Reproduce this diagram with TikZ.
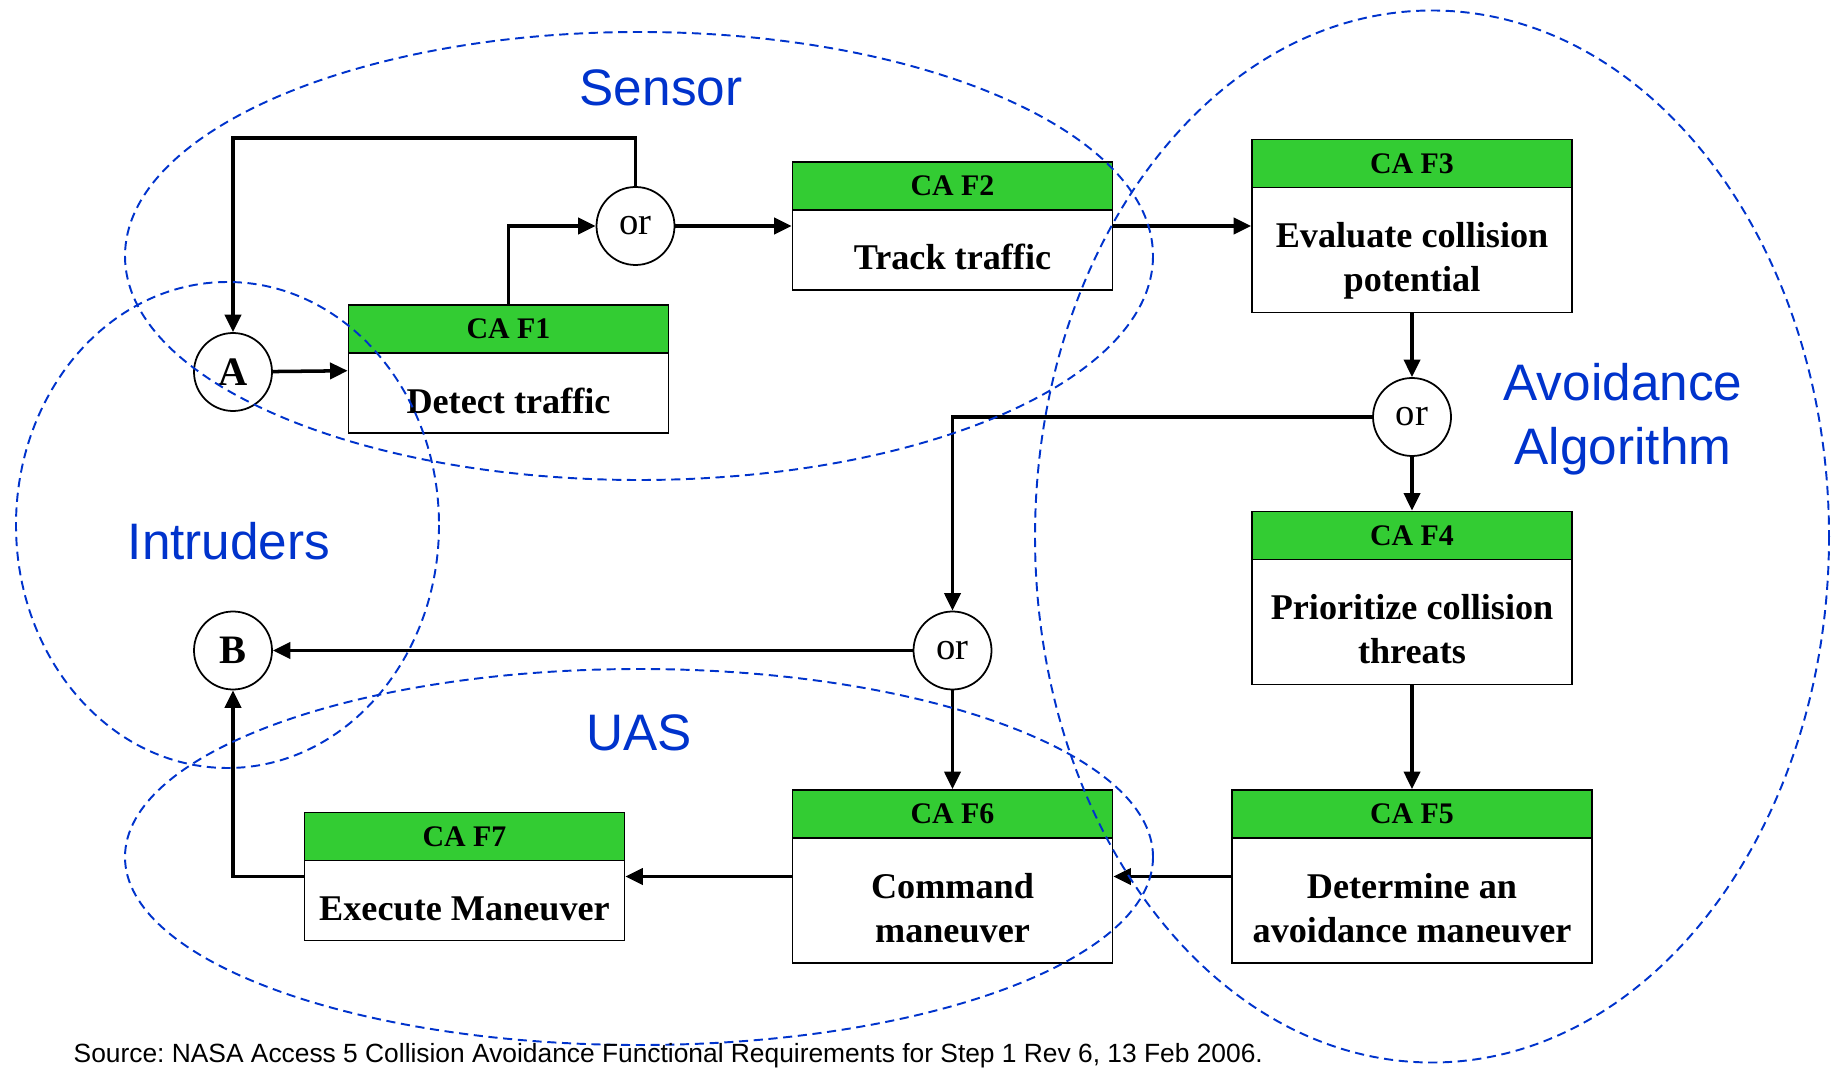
\documentclass[tikz,border=0pt]{standalone}
\usepackage{fontspec}
\setmainfont{Liberation Serif}
\newfontfamily\labelfont{Liberation Sans}
\usetikzlibrary{arrows.meta}

\definecolor{boxgreen}{RGB}{51,204,51}
\definecolor{zoneblue}{RGB}{0,51,204}

\begin{document}
\frenchspacing
\begin{tikzpicture}[
    x=0.1mm,
    y=-0.1mm,
    line join=miter,
    cabox/.style={draw,line width=0.5pt,minimum width=32mm,inner sep=0pt},
    cahead/.style={draw,line width=0.5pt,fill=boxgreen,minimum width=32mm,minimum height=4.8mm,
        inner sep=0pt,anchor=north,font=\bfseries\fontsize{8.5}{10}\selectfont},
    catext/.style={align=center,inner sep=0pt,font=\bfseries\fontsize{10.3}{12.5}\selectfont},
    gate/.style={circle,draw,line width=0.5pt,minimum size=7.8mm,inner sep=0pt,
        font=\fontsize{11}{13}\selectfont},
    flow/.style={line width=1pt,-{Triangle[length=5pt,width=4.6pt]}},
    zone/.style={zoneblue,line width=0.55pt,dash pattern=on 2.6pt off 1.6pt},
    zonelabel/.style={zoneblue,align=center,font=\labelfont\fontsize{14.6}{18.2}\selectfont}
]

\useasboundingbox (0,0) rectangle (1835,1068);

% -------------------------------------------------
% Блоки CA F1 ... CA F7
% -------------------------------------------------

\node[cabox,minimum height=12.8mm] (f1) at (508.5,369) {};
\node[cahead] (f1h) at (f1.north) {CA F1};
\node[catext] (f1t) at (508.5,400.5) {Detect traffic};

\node[cabox,minimum height=12.8mm] (f2) at (952.5,226) {};
\node[cahead] (f2h) at (f2.north) {CA F2};
\node[catext] (f2t) at (952.5,257) {Track traffic};

\node[cabox,minimum height=17.3mm] (f3) at (1412,226) {};
\node[cahead] (f3h) at (f3.north) {CA F3};
\node[catext] (f3t) at (1412,261) {Evaluate collision\\potential};

\node[cabox,minimum height=17.3mm] (f4) at (1412,598) {};
\node[cahead] (f4h) at (f4.north) {CA F4};
\node[catext] (f4t) at (1412,629.5) {Prioritize collision\\threats};

\node[cabox,minimum width=36mm,minimum height=17.3mm] (f5) at (1412,876.5) {};
\node[cahead,minimum width=36mm] (f5h) at (f5.north) {CA F5};
\node[catext] (f5t) at (1412,908.5) {Determine an\\avoidance maneuver};

\node[cabox,minimum height=17.3mm] (f6) at (952.5,876.5) {};
\node[cahead] (f6h) at (f6.north) {CA F6};
\node[catext] (f6t) at (952.5,908.5) {Command\\maneuver};

\node[cabox,minimum height=12.8mm] (f7) at (464.5,876.5) {};
\node[cahead] (f7h) at (f7.north) {CA F7};
\node[catext] (f7t) at (464.5,908.5) {Execute Maneuver};

% -------------------------------------------------
% Узлы A, B и «or»
% -------------------------------------------------

\node[gate,font=\bfseries\fontsize{11.5}{13}\selectfont] (a) at (233,372) {A};
\node[gate,font=\bfseries\fontsize{11.5}{13}\selectfont] (b) at (233,650.5) {B};
\node[gate] (or1) at (635.5,226) {or};
\node[gate] (or2) at (1412,417) {or};
\node[gate] (or3) at (952.5,650.5) {or};

% -------------------------------------------------
% Стрелки
% -------------------------------------------------

\coordinate (loop) at (233,138);
\draw[flow] (or1) |- (loop) -- (a);
\draw[flow] (a) -- (f1);
\draw[flow] (f1) |- (or1);
\draw[flow] (or1) -- (f2);
\draw[flow] (f2) -- (f3);
\draw[flow] (f3) -- (or2);
\draw[flow] (or2) -- (f4);
\draw[flow] (or2) -| (or3);
\draw[flow] (or3) -- (b);
\draw[flow] (or3) -- (f6);
\draw[flow] (f4) -- (f5);
\draw[flow] (f5) -- (f6);
\draw[flow] (f6) -- (f7);
\draw[flow] (f7) -| (b);

% -------------------------------------------------
% Области (пунктир) и их подписи
% -------------------------------------------------

\draw[zone] (639,256) ellipse [x radius=514, y radius=224];
\draw[zone] (227.5,525) ellipse [x radius=211.5, y radius=243];
\draw[zone] (639,857) ellipse [x radius=514, y radius=188];
\draw[zone] (1432,536.5) ellipse [x radius=397, y radius=526];

\node[zonelabel] (sensor) at (661,88) {Sensor};
\node[zonelabel] (intruders) at (229,541) {Intruders};
\node[zonelabel] (uas) at (639,733) {UAS};
\node[zonelabel] (avoid) at (1623,419) {Avoidance\\Algorithm};

% источник
\node[anchor=base west,inner sep=0pt,font=\labelfont\fontsize{7.5}{9}\selectfont] (src) at (73,1062)
    {Source: NASA Access 5 Collision Avoidance Functional Requirements for Step 1 Rev 6, 13 Feb 2006.};

\end{tikzpicture}
\end{document}
